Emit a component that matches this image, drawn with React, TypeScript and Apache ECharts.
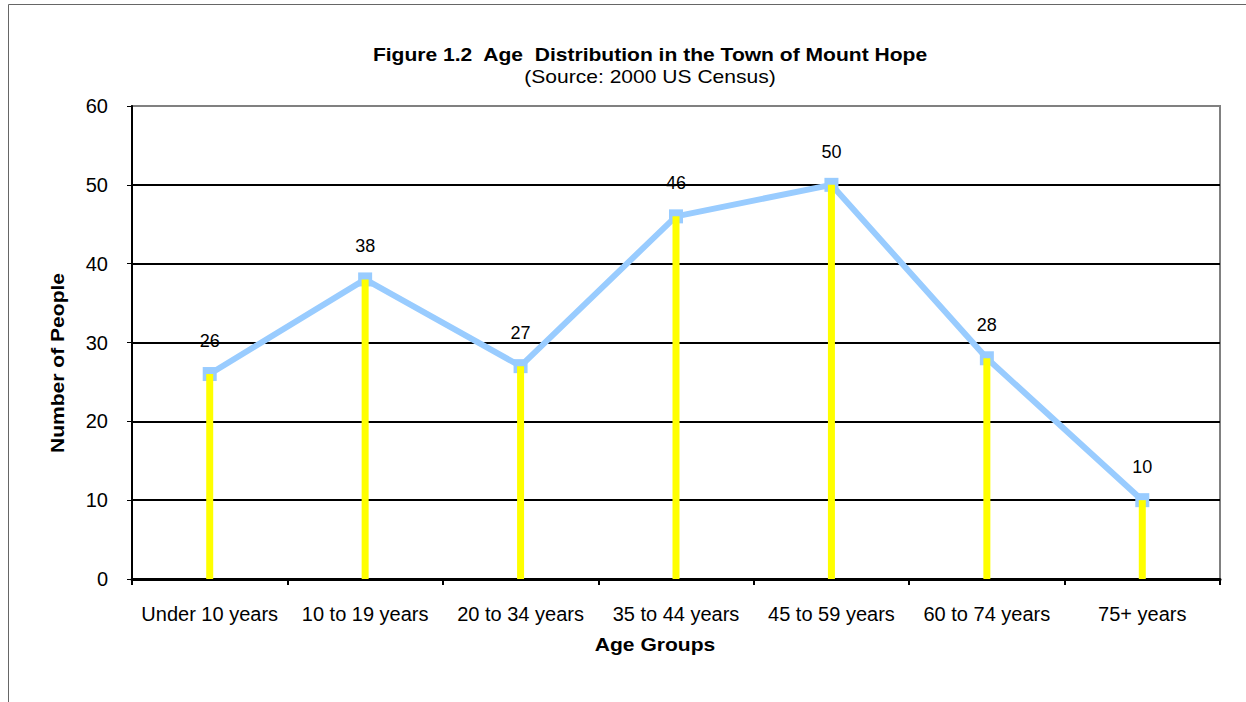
import React, { useEffect, useRef } from "react";
import * as echarts from "echarts";

const categories = [
  "Under 10 years",
  "10 to 19 years",
  "20 to 34 years",
  "35 to 44 years",
  "45 to 59 years",
  "60 to 74 years",
  "75+ years",
];
const people = [26, 38, 27, 46, 50, 28, 10];
const yMin = 0;
const yMax = 60;
const yStep = 10;

const titleText = "Figure 1.2  Age  Distribution in the Town of Mount Hope";
const subtitleText = "(Source: 2000 US Census)";
const yName = "Number of People";
const xName = "Age Groups";

const FONT = "Arial, 'Liberation Sans', sans-serif";
const STRETCH = 1.17;

export default function App() {
  const ref = useRef<HTMLDivElement>(null);
  useEffect(() => {
    const chart = echarts.init(ref.current!, null, { renderer: "svg" });
    const splitColors = [] as string[];
    for (let v = yMin; v <= yMax; v += yStep) splitColors.push(v === yMax ? "#808080" : "#000000");
    chart.setOption({
      animation: false,
      backgroundColor: "#ffffff",
      textStyle: { fontFamily: FONT },
      grid: {
        left: 132,
        top: 106,
        width: 1088,
        height: 473,
        show: true,
        borderColor: "#808080",
        borderWidth: 2,
        backgroundColor: "transparent",
      },
      xAxis: {
        type: "category",
        data: categories,
        boundaryGap: true,
        axisLine: { show: true, lineStyle: { color: "#000", width: 3 } },
        axisTick: { show: true, length: 6, lineStyle: { color: "#000", width: 2 } },
        axisLabel: { color: "#000", fontSize: 20, margin: 25, fontFamily: FONT, interval: 0 },
        splitLine: { show: false },
      },
      yAxis: {
        type: "value",
        min: yMin,
        max: yMax,
        interval: yStep,
        axisLine: { show: true, lineStyle: { color: "#000", width: 2 } },
        axisTick: { show: true, length: 5, lineStyle: { color: "#000", width: 1 } },
        axisLabel: { color: "#000", fontSize: 20, margin: 24, fontFamily: FONT },
        splitLine: { show: true, lineStyle: { color: splitColors, width: 2 } },
      },
      series: [
        {
          type: "line",
          data: people,
          z: 2,
          symbol: "rect",
          symbolSize: 14,
          lineStyle: { color: "#99CCFF", width: 6 },
          itemStyle: { color: "#99CCFF" },
          label: {
            show: true,
            position: "top",
            distance: 17,
            color: "#000",
            fontSize: 18,
            fontFamily: FONT,
          },
        },
        {
          type: "bar",
          data: people,
          z: 3,
          barWidth: 7,
          itemStyle: { color: "#FFFF00" },
        },
      ],
      graphic: [
        {
          type: "rect",
          silent: true,
          z: -1,
          shape: { x: 8.5, y: 4.5, width: 1400, height: 900 },
          style: { fill: "none", stroke: "#666666", lineWidth: 1 },
        },
        {
          type: "text",
          x: 650,
          y: 55,
          scaleX: STRETCH,
          style: {
            text: titleText,
            font: `bold 18px ${FONT}`,
            fill: "#000",
            textAlign: "center",
            textVerticalAlign: "middle",
          },
        },
        {
          type: "text",
          x: 650,
          y: 77,
          scaleX: STRETCH,
          style: {
            text: subtitleText,
            font: `18px ${FONT}`,
            fill: "#000",
            textAlign: "center",
            textVerticalAlign: "middle",
          },
        },
        {
          type: "text",
          x: 58,
          y: 363,
          rotation: Math.PI / 2,
          scaleX: STRETCH,
          style: {
            text: yName,
            font: `bold 18px ${FONT}`,
            fill: "#000",
            textAlign: "center",
            textVerticalAlign: "middle",
          },
        },
        {
          type: "text",
          x: 655,
          y: 645,
          scaleX: STRETCH,
          style: {
            text: xName,
            font: `bold 18px ${FONT}`,
            fill: "#000",
            textAlign: "center",
            textVerticalAlign: "middle",
          },
        },
      ],
    });
    return () => chart.dispose();
  }, []);
  return (
    <div
      ref={ref}
      style={{ position: "absolute", left: 0, top: 0, width: 1246, height: 702, background: "#fff" }}
    />
  );
}
